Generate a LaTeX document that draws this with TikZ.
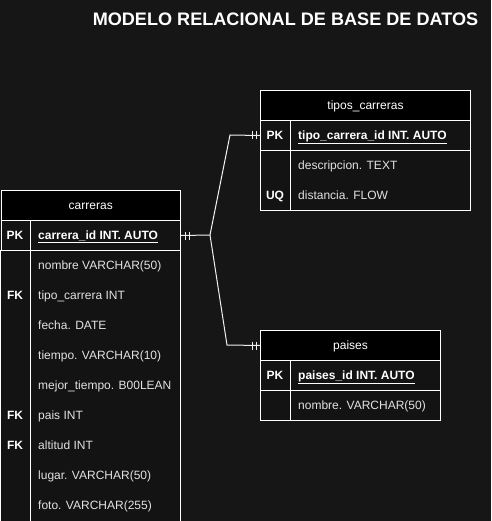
\documentclass[tikz,border=0pt]{standalone}
\usepackage{fontspec}
\setmainfont{Liberation Sans}
\definecolor{bg}{HTML}{161616}
\definecolor{body}{HTML}{131313}
\definecolor{txt}{HTML}{E2E2E2}
\definecolor{lin}{HTML}{F0F0F0}
\tikzset{
  box/.style={draw=white, line width=1pt, fill=body},
  hdr/.style={draw=white, line width=1pt, fill=black, inner sep=0pt, anchor=north west,
    text=white, font=\fontsize{12}{14}\selectfont, text height=8.6pt, text depth=0pt},
  pkrow/.style={draw=white, line width=1pt, fill=body, inner sep=0pt, anchor=north west, minimum height=30pt},
  fld/.style={anchor=west, inner sep=0pt, text=txt, font=\fontsize{12}{14}\selectfont, text height=8.6pt, text depth=0pt},
  keyl/.style={anchor=center, inner sep=0pt, text=white, font=\bfseries\fontsize{12}{14}\selectfont, text height=8.6pt, text depth=0pt},
  pkf/.style={anchor=west, inner sep=0pt, text=white, font=\bfseries\fontsize{12}{14}\selectfont, text height=8.6pt, text depth=0pt},
  conn/.style={draw=lin, line width=1pt},
}
\begin{document}
\begin{tikzpicture}[x=1pt,y=-1pt]
\useasboundingbox (0,0) rectangle (491,521);
\fill[bg] (0,0) rectangle (491,521);
\clip (0,0) rectangle (491,521);

% title
\node[text=white, font=\bfseries\fontsize{18.1}{20}\selectfont, inner sep=0pt, text height=13pt, text depth=0pt] (title) at (285.5,19.5) {MODELO RELACIONAL DE BASE DE DATOS};

% ---------- carreras ----------
\draw[box] (0.5,250) rectangle (180,560);
\draw[draw=white, line width=1pt] (30,250) -- (30,560);
\node[hdr, minimum width=179.5pt, minimum height=30pt] (carh) at (0.5,190) {carreras};
\node[pkrow, minimum width=179.5pt] (carpk) at (0.5,220) {};
\draw[draw=white, line width=1pt] (30,220) -- (30,250);
\node[keyl] (carpkk) at (15,235) {PK};
\node[pkf] (carpkf) at (38,235) {\underline{carrera\_id INT. AUTO}};
\node[fld] (f1) at (38,265) {nombre VARCHAR(50)};
\node[keyl] (k2) at (15,295) {FK};
\node[fld] (f2) at (38,295) {tipo\_carrera INT};
\node[fld] (f3) at (38,325) {fecha. DATE};
\node[fld] (f4) at (38,355) {tiempo. VARCHAR(10)};
\node[fld] (f5) at (38,385) {mejor\_tiempo. B00LEAN};
\node[keyl] (k6) at (15,415) {FK};
\node[fld] (f6) at (38,415) {pais INT};
\node[keyl] (k7) at (15,445) {FK};
\node[fld] (f7) at (38,445) {altitud INT};
\node[fld] (f8) at (38,475) {lugar. VARCHAR(50)};
\node[fld] (f9) at (38,505) {foto. VARCHAR(255)};

% ---------- tipos_carreras ----------
\draw[box] (260,150) rectangle (470,210);
\draw[draw=white, line width=1pt] (290,150) -- (290,210);
\node[hdr, minimum width=210pt, minimum height=30pt] (tiph) at (260,90) {tipos\_carreras};
\node[pkrow, minimum width=210pt] (tippk) at (260,120) {};
\draw[draw=white, line width=1pt] (290,120) -- (290,150);
\node[keyl] (tippkk) at (275,135) {PK};
\node[pkf] (tippkf) at (298,135) {\underline{tipo\_carrera\_id INT. AUTO}};
\node[fld] (t1) at (298,165) {descripcion. TEXT};
\node[keyl] (tk2) at (275,195) {UQ};
\node[fld] (t2) at (298,195) {distancia. FLOW};

% ---------- paises ----------
\draw[box] (260,390) rectangle (440,420);
\draw[draw=white, line width=1pt] (290,390) -- (290,420);
\node[hdr, minimum width=180pt, minimum height=30pt] (paih) at (260,330) {paises};
\node[pkrow, minimum width=180pt] (paipk) at (260,360) {};
\draw[draw=white, line width=1pt] (290,360) -- (290,390);
\node[keyl] (paipkk) at (275,375) {PK};
\node[pkf] (paipkf) at (298,375) {\underline{paises\_id INT. AUTO}};
\node[fld] (p1) at (298,405) {nombre. VARCHAR(50)};

% ---------- connectors ----------
\coordinate (j) at (210,235);
\coordinate (k1) at (230,135);
\coordinate (k2c) at (227,345);
\draw[conn] (carpk.east) -- (j) -- (k1) -- (tippk.west);
\draw[conn] (j) -- (k2c) -- (paih.west);
% ticks
\foreach \dx in {4,8} {
  \draw[conn] ([xshift=\dx pt]carpk.east) ++(0,-4) -- ++(0,8);
  \draw[conn] ([xshift=-\dx pt]tippk.west) ++(0,-4) -- ++(0,8);
  \draw[conn] ([xshift=-\dx pt]paih.west) ++(0,-4) -- ++(0,8);
}
\end{tikzpicture}
\end{document}
